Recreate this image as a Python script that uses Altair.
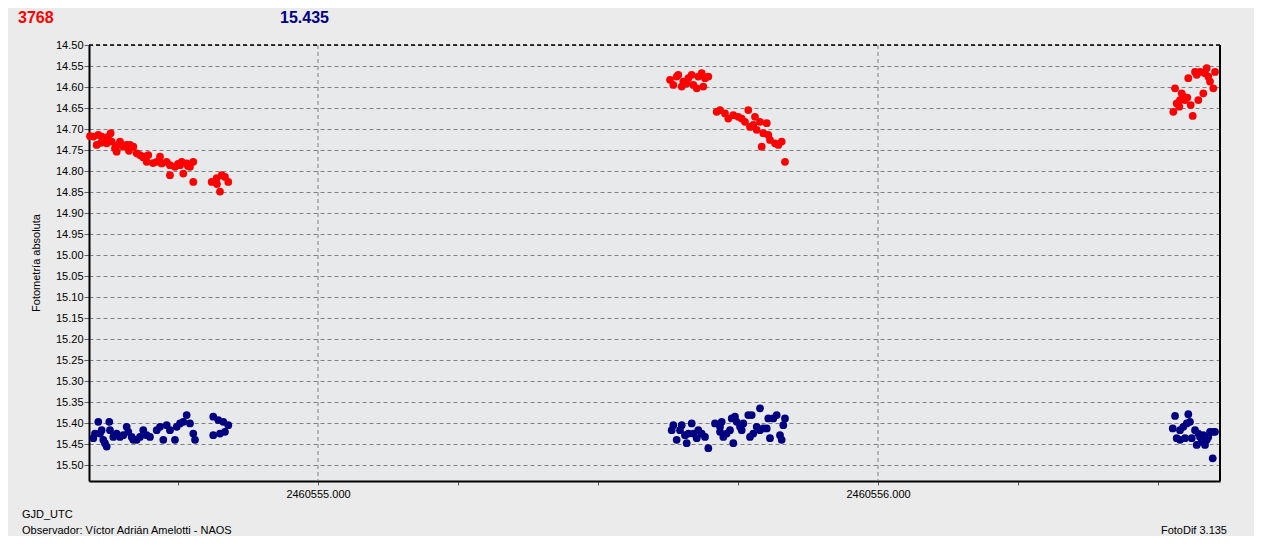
import altair as alt
import pandas as pd

# ---------------- data ----------------
red_jd = [
    2460554.5929, 2460554.5988, 2460554.6077, 2460554.6137, 2460554.6298, 2460554.6048,
    2460554.6125, 2460554.6196, 2460554.6227, 2460554.6250, 2460554.6316, 2460554.6375,
    2460554.6393, 2460554.6405, 2460554.6464, 2460554.6495, 2460554.6523, 2460554.6584,
    2460554.6625, 2460554.6643, 2460554.6702, 2460554.6763, 2460554.6821, 2460554.6875,
    2460554.6911, 2460554.6970, 2460554.6941, 2460554.7054, 2460554.7179, 2460554.7120,
    2460554.7209, 2460554.7298, 2460554.7357, 2460554.7357, 2460554.7446, 2460554.7500,
    2460554.7536, 2460554.7595, 2460554.7566, 2460554.7655, 2460554.7679, 2460554.7714,
    2460554.7773, 2460554.7773, 2460554.8102, 2460554.8191, 2460554.8196, 2460554.8280,
    2460554.8339, 2460554.8398, 2460554.8250,
    # second night
    2460555.6286, 2460555.6345, 2460555.6405, 2460555.6434, 2460555.6495, 2460555.6523,
    2460555.6584, 2460555.6613, 2460555.6673, 2460555.6702, 2460555.6763, 2460555.6791,
    2460555.6852, 2460555.6880, 2460555.6911, 2460555.6970,
    2460555.7120, 2460555.7179, 2460555.7268, 2460555.7327, 2460555.7416, 2460555.7505,
    2460555.7566, 2460555.7625, 2460555.7684, 2460555.7714, 2460555.7773, 2460555.7804,
    2460555.7834, 2460555.7893, 2460555.7952, 2460555.8013, 2460555.8041, 2460555.8071,
    2460555.8161, 2460555.8220, 2460555.8280, 2460555.7923, 2460555.8339,
    # third night
    2460556.5273, 2460556.5304, 2460556.5334, 2460556.5380, 2460556.5423, 2460556.5393,
    2460556.5452, 2460556.5482, 2460556.5523, 2460556.5541, 2460556.5584, 2460556.5620,
    2460556.5661, 2460556.5691, 2460556.5720, 2460556.5750, 2460556.5809, 2460556.5839,
    2460556.5870, 2460556.5898, 2460556.5929, 2460556.5988, 2460556.6018,
]
red_mag = [
    14.717, 14.718, 14.714, 14.718, 14.710, 14.738,
    14.733, 14.726, 14.734, 14.719, 14.730, 14.746,
    14.740, 14.754, 14.730, 14.738, 14.742, 14.738,
    14.752, 14.738, 14.742, 14.758, 14.762, 14.767,
    14.766, 14.762, 14.778, 14.781, 14.766, 14.778,
    14.782, 14.778, 14.786, 14.810, 14.790, 14.783,
    14.786, 14.806, 14.778, 14.782, 14.788, 14.790,
    14.778, 14.826, 14.826, 14.817, 14.831, 14.810,
    14.814, 14.826, 14.849,
    14.583, 14.595, 14.575, 14.571, 14.599, 14.587,
    14.591, 14.579, 14.571, 14.595, 14.603, 14.575,
    14.567, 14.599, 14.579, 14.575,
    14.659, 14.655, 14.663, 14.675, 14.667, 14.671,
    14.675, 14.683, 14.655, 14.695, 14.690, 14.671,
    14.702, 14.683, 14.710, 14.686, 14.714, 14.726,
    14.734, 14.738, 14.730, 14.742, 14.778,
    14.659, 14.603, 14.639, 14.647, 14.615, 14.631,
    14.623, 14.631, 14.625, 14.579, 14.643, 14.669,
    14.564, 14.571, 14.631, 14.564, 14.615, 14.567,
    14.555, 14.575, 14.587, 14.603, 14.564,
]

blue_jd = [
    2460554.6018, 2460554.5988, 2460554.6077, 2460554.6107, 2460554.6137, 2460554.6166,
    2460554.6227, 2460554.6196, 2460554.6273, 2460554.6286, 2460554.6345, 2460554.6405,
    2460554.6464, 2460554.6523, 2460554.6584, 2460554.6613, 2460554.6673, 2460554.6702,
    2460554.6763, 2460554.6821, 2460554.6880, 2460554.6941, 2460554.7000, 2460554.7120,
    2460554.7179, 2460554.7238, 2460554.7298, 2460554.7357, 2460554.7446, 2460554.7477,
    2460554.7536, 2460554.7595, 2460554.7655, 2460554.7714, 2460554.7773, 2460554.7804,
    2460554.8130, 2460554.8130, 2460554.8220, 2460554.8309, 2460554.8398, 2460554.8339,
    2460554.8250,
    2460555.6316, 2460555.6345, 2460555.6405, 2460555.6464, 2460555.6495, 2460555.6554,
    2460555.6584, 2460555.6613, 2460555.6673, 2460555.6702, 2460555.6763, 2460555.6791,
    2460555.6852, 2460555.6911, 2460555.6970, 2460555.7089, 2460555.7179, 2460555.7209,
    2460555.7179, 2460555.7238, 2460555.7298, 2460555.7357, 2460555.7388, 2460555.7446,
    2460555.7477, 2460555.7416, 2460555.7536, 2460555.7566, 2460555.7595, 2460555.7684,
    2460555.7745, 2460555.7714, 2460555.7773, 2460555.7834, 2460555.7893, 2460555.7893,
    2460555.7952, 2460555.8013, 2460555.8041, 2460555.8071, 2460555.8130, 2460555.8191,
    2460555.8250, 2460555.8280, 2460555.8309, 2460555.8339,
    2460556.5304, 2460556.5541, 2460556.5263, 2460556.5393, 2460556.5452, 2460556.5513,
    2460556.5571, 2460556.5334, 2460556.5393, 2460556.5482, 2460556.5602, 2460556.5661,
    2460556.5691, 2460556.5720, 2460556.5750, 2460556.5780, 2460556.5809, 2460556.5839,
    2460556.5870, 2460556.5898, 2460556.5929, 2460556.5988, 2460556.6018, 2460556.5977,
]
blue_mag = [
    15.425, 15.436, 15.397, 15.425, 15.417, 15.440,
    15.456, 15.448, 15.397, 15.417, 15.433, 15.425,
    15.433, 15.429, 15.409, 15.421, 15.433, 15.440,
    15.440, 15.433, 15.417, 15.429, 15.433, 15.417,
    15.409, 15.440, 15.405, 15.417, 15.440, 15.409,
    15.401, 15.397, 15.381, 15.401, 15.425, 15.440,
    15.385, 15.429, 15.393, 15.397, 15.405, 15.421,
    15.425,
    15.417, 15.405, 15.440, 15.417, 15.405, 15.429,
    15.448, 15.425, 15.401, 15.425, 15.436, 15.417,
    15.425, 15.433, 15.460, 15.401, 15.409, 15.397,
    15.421, 15.433, 15.425, 15.417, 15.389, 15.385,
    15.397, 15.448, 15.409, 15.417, 15.401, 15.381,
    15.381, 15.433, 15.425, 15.409, 15.365, 15.417,
    15.413, 15.413, 15.389, 15.436, 15.389, 15.381,
    15.429, 15.440, 15.405, 15.389,
    15.383, 15.379, 15.413, 15.417, 15.409, 15.401,
    15.397, 15.436, 15.440, 15.436, 15.436, 15.417,
    15.452, 15.425, 15.433, 15.445, 15.429, 15.452,
    15.440, 15.433, 15.421, 15.421, 15.421, 15.484,
]

x_ticks = [2460554.75, 2460555.0, 2460555.25, 2460555.5, 2460555.75,
           2460556.0, 2460556.25, 2460556.5]
x_grid = [2460555.0, 2460556.0]
y_ticks = [14.50, 14.55, 14.60, 14.65, 14.70, 14.75, 14.80, 14.85, 14.90, 14.95,
           15.00, 15.05, 15.10, 15.15, 15.20, 15.25, 15.30, 15.35, 15.40, 15.45, 15.50]
x_domain = [2460554.5911, 2460556.6107]
y_domain = [14.50, 15.538]

title_star = "3768"
title_ref = "15.435"
y_title = "Fotometría absoluta"
x_title = "GJD_UTC"
observer = "Observador: Víctor Adrián Amelotti - NAOS"
software = "FotoDif 3.135"

# ---------------- chart ----------------
FONT = "Liberation Sans"
W, H = 1131, 436

points = pd.concat([
    pd.DataFrame({"jd": red_jd, "mag": red_mag, "serie": "var"}),
    pd.DataFrame({"jd": blue_jd, "mag": blue_mag, "serie": "ref"}),
])

xscale = alt.Scale(domain=x_domain, nice=False, zero=False)
yscale = alt.Scale(domain=y_domain, reverse=True, nice=False, zero=False)

xaxis = alt.Axis(values=x_ticks, grid=False, title=None, tickSize=4,
                 labelExpr="datum.value % 1 == 0 ? format(datum.value, '.3f') : ''",
                 labelOverlap=False, labelFlush=False, labelFont=FONT, labelFontSize=11,
                 labelColor="black", labelPadding=3, domainColor="black", domainWidth=2,
                 tickColor="#606060")
yaxis = alt.Axis(values=y_ticks, format=".2f", grid=True, gridDash=[4, 3],
                 gridColor="#808080", gridWidth=1, title=None, tickSize=5,
                 labelFont=FONT, labelFontSize=11, labelColor="black", labelPadding=1,
                 labelOverlap=False, labelFlush=False, domainColor="black", domainWidth=2,
                 tickColor="#606060")

vgrid = alt.Chart(pd.DataFrame({"jd": x_grid})).mark_rule(
    strokeDash=[4, 3], color="#808080", strokeWidth=1
).encode(x=alt.X("jd:Q", scale=xscale, axis=xaxis))

dots = alt.Chart(points).mark_circle(size=60, opacity=1).encode(
    x=alt.X("jd:Q", scale=xscale, axis=xaxis),
    y=alt.Y("mag:Q", scale=yscale, axis=yaxis),
    color=alt.Color("serie:N", scale=alt.Scale(domain=["var", "ref"],
                                               range=["#ff0000", "#000080"]), legend=None),
)

top_border = alt.Chart(pd.DataFrame({"mag": [y_domain[0]]})).mark_rule(
    strokeDash=[4, 3], color="black", strokeWidth=1.5
).encode(y=alt.Y("mag:Q", scale=yscale, axis=yaxis))

right_border = alt.Chart(pd.DataFrame({"jd": [x_domain[1]]})).mark_rule(
    color="black", strokeWidth=2
).encode(x=alt.X("jd:Q", scale=xscale, axis=xaxis))


def label(text, x, y, color="black", size=11, weight="normal", align="left", angle=0):
    return alt.Chart(pd.DataFrame({"t": [text]})).mark_text(
        font=FONT, fontSize=size, fontWeight=weight, color=color, align=align,
        baseline="middle", angle=angle
    ).encode(x=alt.value(x), y=alt.value(y), text="t:N")


texts = [
    label(title_star, -71, -27, color="#ff0000", size=16, weight="bold"),
    label(title_ref, 191, -27, color="#000080", size=16, weight="bold"),
    label(y_title, -52, 218, angle=270, align="center"),
    label(x_title, -67, 470),
    label(observer, -67, 486),
    label(software, 1138, 486, align="right"),
]

chart = alt.layer(vgrid, dots, top_border, right_border, *texts).properties(
    width=W, height=H,
    background="#ebebeb",
    padding={"left": 81, "top": 37, "right": 34, "bottom": 55},
    autosize=alt.AutoSizeParams(type="none"),
).configure_view(fill="#e8e9eb", stroke=None)

chart.save("out.html", embed_options={"renderer": "svg", "actions": False})
